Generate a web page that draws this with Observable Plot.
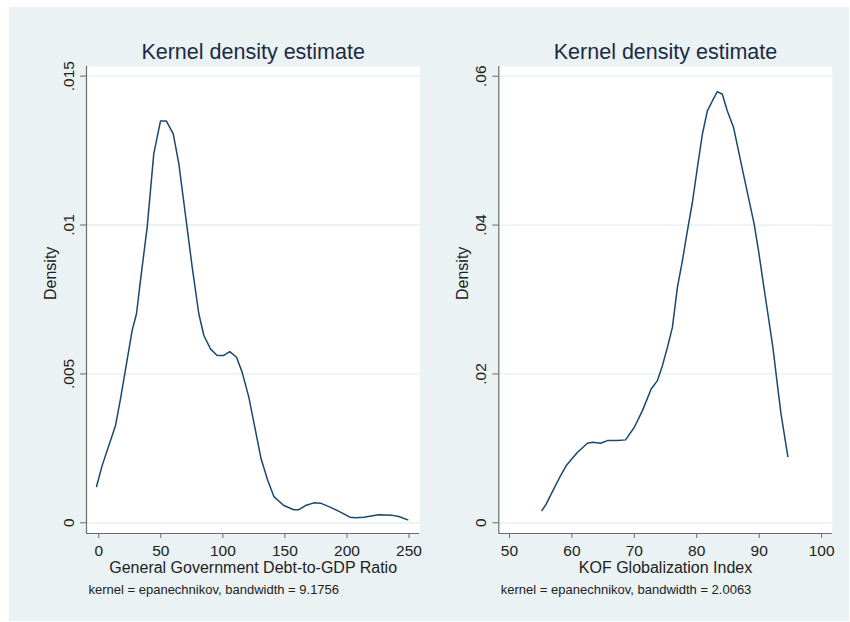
<!DOCTYPE html>
<html><head><meta charset="utf-8">
<script src="https://cdn.jsdelivr.net/npm/d3@7"></script>
<script src="https://cdn.jsdelivr.net/npm/@observablehq/plot@0.6"></script>
<style>
body{margin:0;background:#fff;}
#wrap{position:relative;width:850px;height:622px;background:#fff;overflow:hidden;}
#bg{position:absolute;left:9px;top:7px;width:840px;height:614px;background:#eaf2f3;}
.panel{position:absolute;top:0;}
.panel svg{background:transparent;}
</style></head><body>
<div id="wrap"><div id="bg"></div><div id="left" class="panel" style="left:0"></div><div id="right" class="panel" style="left:425px"></div></div>
<script>
const chartTitle = "Kernel density estimate";
const yLabel = "Density";

const debtX = [-1.8, 2.7, 13.5, 17.5, 26.9, 30.4, 33.6, 39.0, 44.3, 49.7, 54.5, 60.0, 64.5, 69.9, 75.3, 80.6, 84.7, 90.0, 95.4, 100.7, 105.6, 111.0, 115.5, 120.9, 130.8, 136.2, 141.1, 149.1, 157.2, 161.2, 166.6, 173.3, 178.7, 186.8, 194.8, 202.3, 206.9, 213.6, 225.6, 236.5, 241.8, 249.0];
const debtY = [0.00122, 0.00192, 0.00327, 0.00416, 0.00646, 0.00702, 0.00814, 0.00993, 0.01239, 0.01349, 0.01349, 0.01306, 0.01206, 0.01032, 0.00858, 0.00702, 0.00629, 0.00584, 0.00562, 0.00562, 0.00575, 0.00556, 0.00506, 0.00422, 0.00215, 0.00142, 0.00088, 0.00058, 0.00044, 0.00044, 0.00058, 0.00067, 0.00066, 0.00052, 0.00036, 0.00019, 0.00017, 0.00019, 0.00027, 0.00025, 0.00021, 0.0001];
const debtTicksX = [0, 50, 100, 150, 200, 250];
const debtTicksY = [0, 0.005, 0.01, 0.015];
const debtLabel = "General Government Debt-to-GDP Ratio";
const debtNote = "kernel = epanechnikov, bandwidth = 9.1756";

const kofX = [55.2, 55.9, 57.1, 58.2, 59.1, 60.9, 62.5, 63.3, 64.6, 65.7, 67.3, 68.6, 70.0, 71.3, 72.7, 73.7, 74.5, 75.3, 76.1, 76.9, 77.7, 78.5, 79.3, 80.1, 80.9, 81.7, 82.5, 83.3, 84.1, 84.9, 85.9, 86.8, 87.6, 88.4, 89.2, 89.9, 90.6, 91.4, 92.2, 93.0, 93.5, 94.6];
const kofY = [0.00165, 0.00255, 0.00456, 0.00635, 0.00769, 0.00948, 0.01068, 0.01082, 0.01068, 0.01104, 0.01104, 0.01114, 0.01283, 0.01507, 0.01798, 0.0191, 0.02111, 0.02357, 0.02625, 0.03162, 0.0352, 0.03923, 0.04303, 0.04772, 0.0522, 0.05533, 0.05667, 0.05792, 0.05757, 0.05533, 0.05309, 0.04952, 0.04638, 0.04325, 0.04013, 0.03654, 0.03252, 0.02805, 0.02357, 0.01798, 0.01463, 0.0089];
const kofTicksX = [50, 60, 70, 80, 90, 100];
const kofTicksY = [0, 0.02, 0.04, 0.06];
const kofLabel = "KOF Globalization Index";
const kofNote = "kernel = epanechnikov, bandwidth = 2.0063";

const fmt = d => d === 0 ? "0" : String(d).replace(/^0/, "");
const FONT = "'Liberation Sans', Arial, Helvetica, sans-serif";

function panel({xs, ys, xDomain, yDomain, xTicks, yTicks, width, marginLeft, marginRight, xLabel, note}) {
  const data = xs.map((x, i) => ({x, y: ys[i]}));
  return Plot.plot({
    width, height: 622,
    marginLeft, marginRight, marginTop: 66, marginBottom: 89,
    style: {background: "transparent", fontFamily: FONT, fontSize: "15px", color: "#222"},
    x: {domain: xDomain, label: null},
    y: {domain: yDomain, label: null},
    marks: [
      Plot.frame({fill: "white", stroke: "none"}),
      Plot.gridY(yTicks, {stroke: "#e4eef0", strokeOpacity: 1, strokeWidth: 1.3}),
      Plot.ruleX([xDomain[0]], {stroke: "#6b6b6b", strokeWidth: 1.2}),
      Plot.ruleY([yDomain[0]], {stroke: "#6b6b6b", strokeWidth: 1.2}),
      Plot.axisX(xTicks, {tickSize: 5, tickPadding: 6, stroke: "#6b6b6b", fill: "#222", fontSize: 15.5, label: null}),
      Plot.axisY(yTicks, {tickSize: 6, tickPadding: 7, tickRotate: -90, tickFormat: fmt, stroke: "#6b6b6b", fill: "#222", fontSize: 15.5, label: null}),
      Plot.line(data, {x: "x", y: "y", stroke: "#1a476f", strokeWidth: 1.5}),
      Plot.text([chartTitle], {text: d => d, frameAnchor: "top", dy: -8, lineAnchor: "bottom", fontSize: 21.5, fill: "#1c2b45"}),
      Plot.text([yLabel], {text: d => d, frameAnchor: "left", rotate: -90, dx: -31, lineAnchor: "bottom", fontSize: 16, fill: "#222"}),
      Plot.text([xLabel], {text: d => d, frameAnchor: "bottom", dy: 39.5, lineAnchor: "bottom", fontSize: 16, fill: "#222"}),
      Plot.text([note], {text: d => d, frameAnchor: "bottom-left", dx: 2, dy: 60, lineAnchor: "bottom", textAnchor: "start", fontSize: 13, fill: "#222"})
    ]
  });
}

document.getElementById("left").append(panel({
  xs: debtX, ys: debtY, xDomain: [-9.9, 258.7], yDomain: [-0.000359, 0.015323],
  xTicks: debtTicksX, yTicks: debtTicksY, width: 425, marginLeft: 86, marginRight: 5.7,
  xLabel: debtLabel, note: debtNote
}));
document.getElementById("right").append(panel({
  xs: kofX, ys: kofY, xDomain: [48.29, 101.7], yDomain: [-0.001438, 0.0613],
  xTicks: kofTicksX, yTicks: kofTicksY, width: 425, marginLeft: 73.3, marginRight: 18.3,
  xLabel: kofLabel, note: kofNote
}));
</script>
</body></html>
